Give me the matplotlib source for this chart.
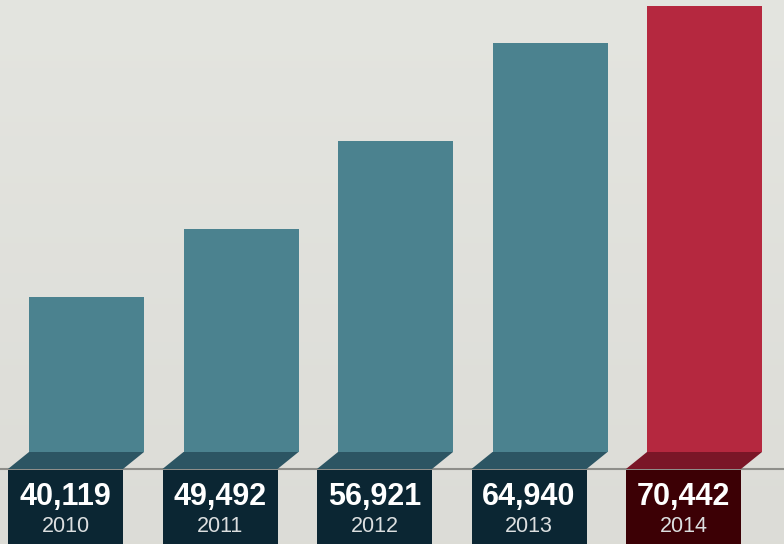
import numpy as np
import matplotlib.pyplot as plt
from matplotlib.patches import Polygon, Rectangle

years = ['2010', '2011', '2012', '2013', '2014']
values = [40119, 49492, 56921, 64940, 70442]
# bar heights as drawn in the infographic (not proportional to values)
bar_heights = [155, 223, 311, 409, 446]

bar_colors = ['#4b828f'] * 4 + ['#b5283f']
face_colors = ['#2c5563'] * 4 + ['#7a1627']
box_colors = ['#0b2633'] * 4 + ['#3c0005']

W, H = 784, 544
fig = plt.figure(figsize=(W / 100, H / 100), dpi=100)
ax = fig.add_axes([0, 0, 1, 1])

step = 154.5
x0 = 86.5
width = 115 / step
depth = 17          # floor depth below bar body
shift = 21 / step   # left shift of the floor face
box_h = 75

ax.set_xlim(-x0 / step, (W - x0) / step)
ax.set_ylim(-(H - 452), 452)
ax.axis('off')

# background gradient
grad = np.linspace(0, 1, 256).reshape(-1, 1)
top = np.array([0.894, 0.898, 0.878])
bot = np.array([0.863, 0.863, 0.843])
img = top + (bot - top) * grad[:, :, None]
ax.imshow(img, extent=[*ax.get_xlim(), -(H - 452), 452], aspect='auto',
          origin='upper', zorder=0)

# baseline
ax.axhline(-depth, color='#8e8e8a', lw=1.5, zorder=1)

xs = np.arange(len(values))
ax.bar(xs, bar_heights, width=width, color=bar_colors, zorder=2)

for i, (v, yr) in enumerate(zip(values, years)):
    l, r = i - width / 2, i + width / 2
    ax.add_patch(Polygon([(l, 0), (r, 0), (r - shift, -depth), (l - shift, -depth)],
                         closed=True, color=face_colors[i], lw=0, zorder=3))
    ax.add_patch(Rectangle((l - shift, -depth - box_h), width, box_h - 1,
                           color=box_colors[i], lw=0, zorder=3))
    cx = i - shift
    ax.text(cx, -45, f'{v:,}', color='white', fontsize=22, fontweight='bold',
            family='Liberation Sans', ha='center', va='center', zorder=4)
    ax.text(cx, -75, yr, color='#dcdfe0', fontsize=15.5,
            family='Liberation Sans', ha='center', va='center', zorder=4)

fig.savefig('out.png', dpi=100)
